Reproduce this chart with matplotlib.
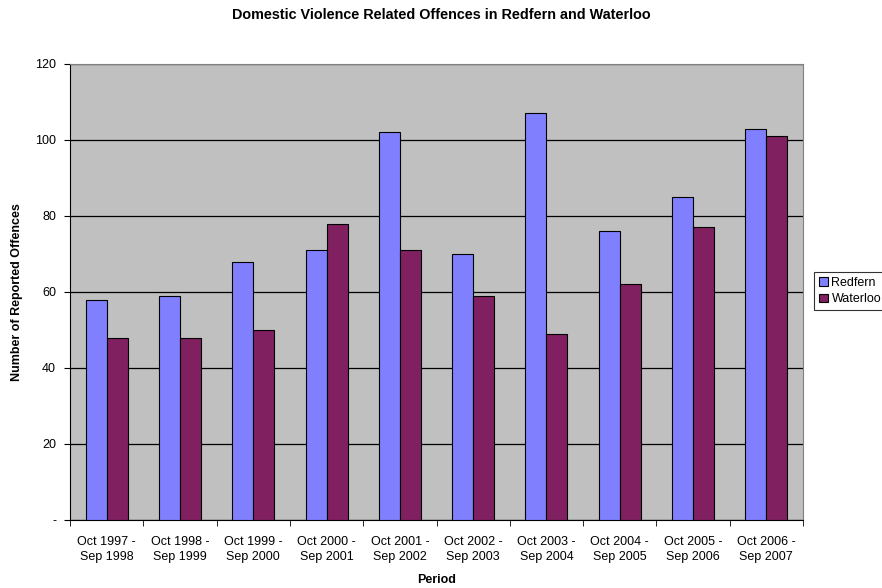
import matplotlib.pyplot as plt
import numpy as np

plt.rcParams['font.family'] = ['Liberation Sans', 'DejaVu Sans']

periods = ['Oct 1997 -\nSep 1998', 'Oct 1998 -\nSep 1999', 'Oct 1999 -\nSep 2000',
           'Oct 2000 -\nSep 2001', 'Oct 2001 -\nSep 2002', 'Oct 2002 -\nSep 2003',
           'Oct 2003 -\nSep 2004', 'Oct 2004 -\nSep 2005', 'Oct 2005 -\nSep 2006',
           'Oct 2006 -\nSep 2007']
redfern = [58, 59, 68, 71, 102, 70, 107, 76, 85, 103]
waterloo = [48, 48, 50, 78, 71, 59, 49, 62, 77, 101]

fig = plt.figure(figsize=(8.82, 5.88), dpi=100)
ax = fig.add_axes([70 / 882, 68 / 588, 733 / 882, 456 / 588])
ax.set_facecolor('#C0C0C0')

x = np.arange(len(periods))
w = 0.287
ax.bar(x - w / 2, redfern, w, color='#8080FF', edgecolor='black', linewidth=0.8,
       label='Redfern', zorder=3)
ax.bar(x + w / 2, waterloo, w, color='#802060', edgecolor='black', linewidth=0.8,
       label='Waterloo', zorder=3)

ax.set_xlim(-0.5, len(periods) - 0.5)
ax.set_ylim(0, 120)
yt = np.arange(0, 121, 20)
ax.set_yticks(yt)
ax.set_yticklabels(['-'] + [str(v) for v in yt[1:]], fontsize=9)
ax.yaxis.grid(True, color='black', linewidth=0.9, zorder=1)
ax.set_axisbelow(True)

# category labels at centres, tick marks at boundaries
ax.set_xticks(x)
ax.set_xticklabels(periods, fontsize=9, linespacing=1.3)
ax.tick_params(axis='x', length=0, pad=11.5)
ax.set_xticks(np.arange(-0.5, len(periods)), minor=True)
ax.tick_params(axis='x', which='minor', length=4, color='black')
ax.tick_params(axis='y', length=4, color='black', pad=6)

for s in ['top', 'right']:
    ax.spines[s].set_color('#808080')
for s in ['left', 'bottom']:
    ax.spines[s].set_color('black')

ax.set_xlabel('Period', fontsize=9, fontweight='bold', labelpad=8)
ax.set_ylabel('Number of Reported Offences', fontsize=9, fontweight='bold', labelpad=9)
fig.text(0.5, 1 - 15 / 588, 'Domestic Violence Related Offences in Redfern and Waterloo',
         ha='center', va='center', fontsize=10.4, fontweight='bold')

leg = fig.legend(loc='upper left', bbox_to_anchor=(814 / 882, 1 - 272 / 588),
                 fontsize=9, frameon=True, fancybox=False, edgecolor='black',
                 handlelength=0.7, handleheight=0.7, handletextpad=0.3,
                 borderpad=0.4, labelspacing=0.35, borderaxespad=0)
leg.get_frame().set_linewidth(0.8)

fig.savefig('out.png', dpi=100)
